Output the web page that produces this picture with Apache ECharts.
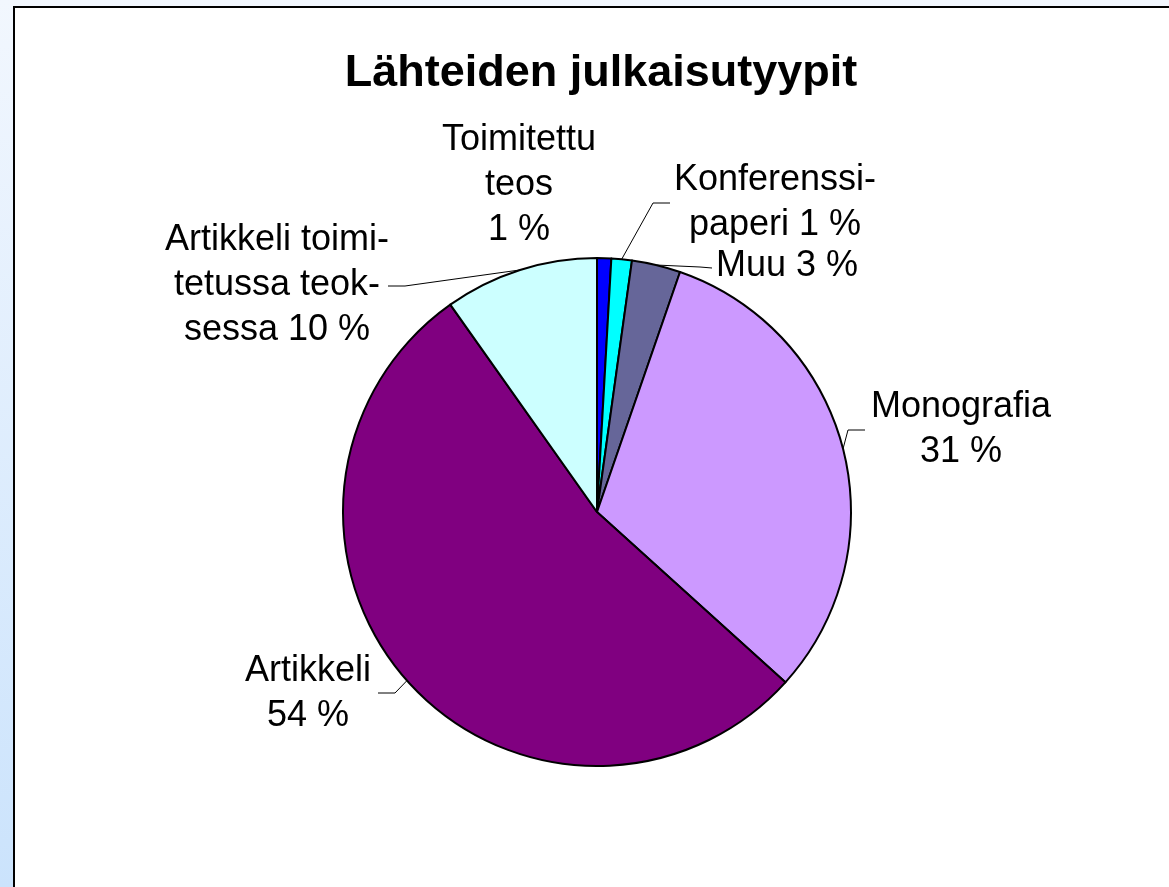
<!DOCTYPE html>
<html>
<head>
<meta charset="utf-8">
<title>Lähteiden julkaisutyypit</title>
<script src="https://cdn.jsdelivr.net/npm/echarts@6/dist/echarts.min.js"></script>
<style>
  html, body {
    margin: 0;
    padding: 0;
    width: 1169px;
    height: 887px;
    overflow: hidden;
    background: linear-gradient(#f2f7fe, #cbe3fc);
  }
  .frame {
    position: absolute;
    left: 13px;
    top: 6px;
    width: 1200px;
    height: 900px;
    background: #fff;
    border-left: 2px solid #000;
    border-top: 2px solid #000;
  }
  #chart {
    position: absolute;
    left: 0;
    top: 0;
    width: 1169px;
    height: 887px;
  }
</style>
</head>
<body>
<div class="frame"></div>
<div id="chart"></div>
<script>
// data (shares, in %)
const categories = [
  "Toimitettu teos",
  "Konferenssipaperi",
  "Muu",
  "Monografia",
  "Artikkeli",
  "Artikkeli toimitetussa teoksessa"
];
const values = [0.9, 1.3, 3.1, 31.4, 53.5, 9.8];
// how the names are wrapped in the labels
const labelNames = [
  "Toimitettu\nteos\n",
  "Konferenssi-\npaperi ",
  "Muu ",
  "Monografia\n",
  "Artikkeli\n",
  "Artikkeli toimi-\ntetussa teok-\nsessa "
];
const colors = ["#0000ff", "#00ffff", "#666699", "#cc99ff", "#800080", "#ccffff"];

// label placement: block centre + leader line bends
const labelPos = [
  { x: 519, y: 185, line: null },
  { x: 775, y: 203, line: [[653, 203], [670, 203]] },
  { x: 787, y: 266, line: [[700, 267], [712, 268]] },
  { x: 961, y: 430, line: [[848, 430], [865, 430]] },
  { x: 308, y: 694, line: [[395, 693], [378, 693]] },
  { x: 277, y: 285, line: [[405, 286], [388, 286]] }
];

const chartDom = document.getElementById("chart");
const myChart = echarts.init(chartDom, null, { renderer: "canvas" });

const option = {
  backgroundColor: "transparent",
  animation: false,
  title: {
    text: "Lähteiden julkaisutyypit",
    left: 596,
    textAlign: "center",
    top: 46,
    textStyle: {
      fontFamily: "Liberation Sans",
      fontSize: 45,
      fontWeight: "bold",
      color: "#000"
    }
  },
  series: [
    {
      type: "pie",
      center: [597, 512],
      radius: 254,
      startAngle: 90,
      clockwise: true,
      avoidLabelOverlap: false,
      itemStyle: {
        borderColor: "#000",
        borderWidth: 2
      },
      label: {
        show: true,
        position: "outside",
        fontFamily: "Liberation Sans",
        fontSize: 36,
        lineHeight: 45,
        color: "#000",
        align: "center",
        formatter: function (p) {
          return labelNames[p.dataIndex] + Math.round(p.percent) + " %";
        }
      },
      labelLine: {
        show: true,
        length: 10,
        length2: 10,
        smooth: false,
        lineStyle: { color: "#000", width: 1 }
      },
      labelLayout: function (params) {
        const pos = labelPos[params.dataIndex];
        const res = {
          x: pos.x,
          y: pos.y,
          align: "center",
          verticalAlign: "middle"
        };
        if (pos.line && params.labelLinePoints) {
          const p0 = params.labelLinePoints[0];
          res.labelLinePoints = [[p0[0], p0[1]]].concat(pos.line);
        }
        return res;
      },
      data: categories.map(function (name, i) {
        return {
          name: name,
          value: values[i],
          itemStyle: { color: colors[i] },
          labelLine: { show: labelPos[i].line !== null }
        };
      })
    }
  ]
};

myChart.setOption(option);
</script>
</body>
</html>
